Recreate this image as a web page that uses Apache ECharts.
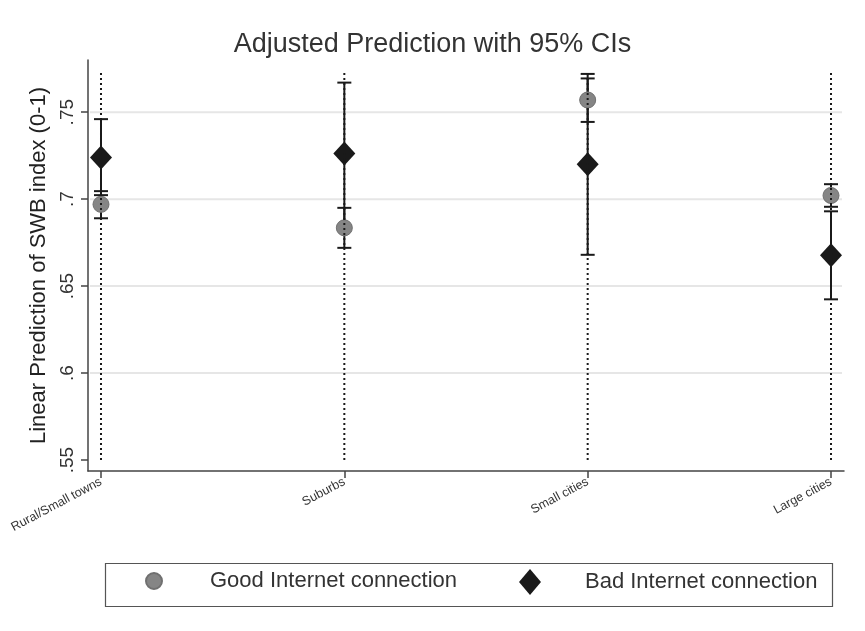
<!DOCTYPE html>
<html>
<head>
<meta charset="utf-8">
<script src="https://cdn.jsdelivr.net/npm/echarts@6/dist/echarts.min.js"></script>
<style>html,body{margin:0;padding:0;background:#fff}#c{width:865px;height:631px}</style>
</head>
<body>
<div id="c"></div>
<script>
var categories = ['Rural/Small towns', 'Suburbs', 'Small cities', 'Large cities'];
var goodMean = [0.697, 0.6835, 0.757, 0.7021];
var goodLow  = [0.689, 0.672, 0.7444, 0.6956];
var goodHigh = [0.7046, 0.695, 0.7694, 0.7086];
var badMean  = [0.724, 0.7262, 0.720, 0.6677];
var badLow   = [0.7023, 0.685, 0.668, 0.6424];
var badHigh  = [0.746, 0.767, 0.772, 0.693];
var spikeLow  = [0.55, 0.55, 0.55, 0.55];
var spikeHigh = [0.7725, 0.7725, 0.7725, 0.7725];
var yTicks = [0.55, 0.6, 0.65, 0.7, 0.75];
var gridVals = [0.6, 0.65, 0.7, 0.75];
var FONT = 'Liberation Sans, Arial, Helvetica, sans-serif';

var chart = echarts.init(document.getElementById('c'), null, {renderer: 'canvas'});

function ciData(lo, hi) { return categories.map(function (c, i) { return [i, lo[i], hi[i]]; }); }
function ciRender(capHalf, dash, width) {
  return function (params, api) {
    var x = api.value(0), p1 = api.coord([x, api.value(1)]), p2 = api.coord([x, api.value(2)]);
    var st = {stroke: '#1a1a1a', lineWidth: width, lineDash: dash || null};
    var ch = [{type: 'line', shape: {x1: p1[0], y1: p1[1], x2: p2[0], y2: p2[1]}, style: st}];
    if (capHalf > 0) {
      ch.push({type: 'line', shape: {x1: p1[0] - capHalf, y1: p1[1], x2: p1[0] + capHalf, y2: p1[1]}, style: st});
      ch.push({type: 'line', shape: {x1: p2[0] - capHalf, y1: p2[1], x2: p2[0] + capHalf, y2: p2[1]}, style: st});
    }
    return {type: 'group', children: ch};
  };
}

var option = {
  backgroundColor: '#fff',
  animation: false,
  textStyle: {fontFamily: FONT},
  title: {
    text: 'Adjusted Prediction with 95% CIs', left: 'center', top: 26,
    textStyle: {fontFamily: FONT, fontSize: 27, fontWeight: 'normal', color: '#333'}
  },
  grid: {left: 88, right: 21, top: 60, bottom: 160, containLabel: false},
  xAxis: {
    type: 'value', min: -0.0534, max: 3.0534,
    axisLine: {show: true, onZero: false, lineStyle: {color: '#444', width: 1.5}},
    axisTick: {show: true, customValues: [0, 1, 2, 3], length: 7, lineStyle: {color: '#444', width: 1.5}},
    axisLabel: {
      customValues: [0, 1, 2, 3], rotate: 28, fontSize: 12.5, color: '#333', margin: 10, fontFamily: FONT,
      formatter: function (v) { return categories[Math.round(v)]; }
    },
    splitLine: {show: false}
  },
  yAxis: {
    type: 'value', min: 0.5437, max: 0.78,
    name: 'Linear Prediction of SWB index (0-1)', nameLocation: 'middle', nameGap: 38,
    nameTextStyle: {fontSize: 22, color: '#222', fontFamily: FONT},
    axisLine: {show: true, onZero: false, lineStyle: {color: '#444', width: 1.5}},
    axisTick: {show: true, customValues: yTicks, length: 7, lineStyle: {color: '#444', width: 1.5}},
    axisLabel: {
      customValues: yTicks, rotate: 90, fontSize: 19, color: '#333', margin: 11, fontFamily: FONT,
      formatter: function (v) { return String(+v.toFixed(2)).replace(/^0/, ''); }
    },
    splitLine: {show: false}
  },
  legend: [
    {
      data: [{name: 'Good Internet connection', icon: 'circle'}],
      left: 145, top: 570, itemWidth: 16, itemHeight: 16, padding: 0,
      textStyle: {fontSize: 22, color: '#333', fontFamily: FONT, padding: [0, 0, 0, 43]}
    },
    {
      data: [{name: 'Bad Internet connection', icon: 'diamond'}],
      left: 519, top: 569, itemWidth: 22, itemHeight: 26, padding: 0,
      textStyle: {fontSize: 22, color: '#333', fontFamily: FONT, padding: [0, 0, 0, 39]}
    }
  ],
  graphic: [{
    type: 'rect', left: 103, top: 561, shape: {width: 727, height: 43},
    style: {fill: 'none', stroke: '#555', lineWidth: 1.2}, silent: true, z: 0
  }],
  series: [
    {
      type: 'custom', name: 'grid', silent: true, z: 1,
      data: gridVals.map(function (v) { return [v]; }),
      renderItem: function (params, api) {
        var cs = params.coordSys, p = api.coord([0, api.value(0)]);
        return {type: 'line', shape: {x1: cs.x + 2, y1: p[1], x2: cs.x + cs.width - 2, y2: p[1]},
          style: {stroke: '#e6e6e6', lineWidth: 2}};
      },
      encode: {y: 0}
    },
    {
      type: 'custom', name: 'goodCI', silent: true, z: 2,
      data: ciData(goodLow, goodHigh), renderItem: ciRender(7, null, 2), encode: {x: 0, y: [1, 2]}
    },
    {
      type: 'custom', name: 'badCI', silent: true, z: 2,
      data: ciData(badLow, badHigh), renderItem: ciRender(7, null, 2), encode: {x: 0, y: [1, 2]}
    },
    {
      type: 'scatter', name: 'Good Internet connection', symbol: 'circle', symbolSize: 16, z: 3,
      itemStyle: {color: '#858585', borderColor: '#707070', borderWidth: 1, opacity: 1},
      data: goodMean.map(function (v, i) { return [i, v]; })
    },
    {
      type: 'scatter', name: 'Bad Internet connection', symbol: 'diamond', symbolSize: [22, 24], z: 3,
      itemStyle: {color: '#1a1a1a', opacity: 1},
      data: badMean.map(function (v, i) { return [i, v]; })
    },
    {
      type: 'custom', name: 'spike', silent: true, z: 4,
      data: ciData(spikeLow, spikeHigh), renderItem: ciRender(0, [2, 3], 2), encode: {x: 0, y: [1, 2]}
    }
  ]
};
chart.setOption(option);
</script>
</body>
</html>
